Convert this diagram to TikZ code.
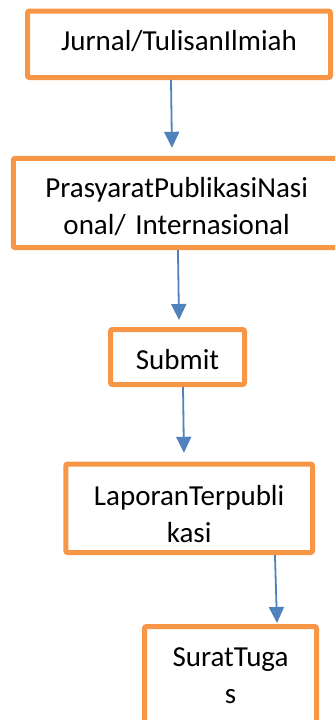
\documentclass[tikz,border=0pt]{standalone}
\usepackage{fontspec}
\setmainfont{Carlito}
\usetikzlibrary{arrows.meta}
\definecolor{boxorange}{HTML}{F79646}
\definecolor{flowblue}{HTML}{4F81BD}
\tikzset{
  stepbox/.style={draw=boxorange, line width=5pt, rounded corners=2pt,
    fill=white, inner sep=0pt},
  boxtext/.style={anchor=base, inner sep=0pt, align=center,
    font=\fontsize{29}{37}\selectfont},
  flow/.style={draw=flowblue, line width=1.8pt,
    -{Triangle[width=15pt,length=16pt]}}
}
\begin{document}
\begin{tikzpicture}[x=1pt,y=1pt]
\useasboundingbox (0,0) rectangle (335,-720);
\clip (0,0) rectangle (335,-720);

% boxes (centre, size measured along the stroke centre line)
\node[stepbox, minimum width=303pt, minimum height=66.5pt] (b1) at (179,-44.25) {};
\node[stepbox, minimum width=326.7pt, minimum height=89.4pt] (b2) at (176.65,-203) {};
\node[stepbox, minimum width=134pt, minimum height=55pt] (b3) at (177.5,-357) {};
\node[stepbox, minimum width=246.7pt, minimum height=88.5pt] (b4) at (189.15,-508.25) {};
\node[stepbox, minimum width=172pt, minimum height=113.5pt] (b5) at (230.5,-683.25) {};

% labels, placed on the baseline of their first line
\node[boxtext, text width=290pt] (t1) at (179,-50.5) {Jurnal/TulisanIlmiah};
\node[boxtext, text width=315pt] (t2) at (176.65,-197.7) {PrasyaratPublikasiNasi\\onal/ Internasional};
\node[boxtext, text width=125pt] (t3) at (177.5,-369.3) {Submit};
\node[boxtext, text width=235pt] (t4) at (189.15,-505) {LaporanTerpubli\\kasi};
\node[boxtext, text width=160pt] (t5) at (230.5,-666.7) {SuratTuga\\s};

% connectors
\draw[flow] ([xshift=-8pt]b1.south) -- ([xshift=-4.7pt,yshift=8pt]b2.north);
\draw[flow] ([xshift=1.3pt]b2.south) -- ([xshift=1.5pt,yshift=7pt]b3.north);
\draw[flow] ([xshift=5.5pt]b3.south) -- ([xshift=-5.2pt,yshift=8.7pt]b4.north);
\draw[flow] ([xshift=85.8pt]b4.south) -- ([xshift=46.5pt,yshift=1pt]b5.north);
\end{tikzpicture}
\end{document}
